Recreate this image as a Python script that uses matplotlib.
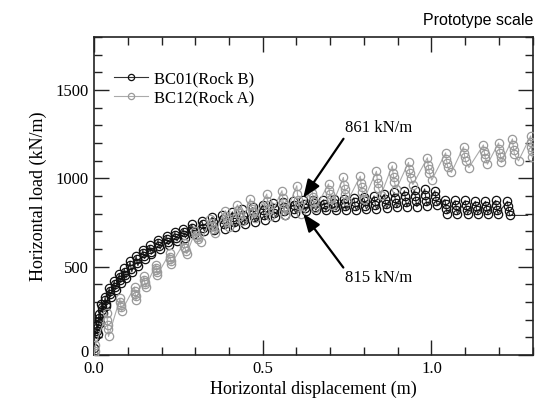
import matplotlib
matplotlib.use("Agg")
import matplotlib.pyplot as plt
import matplotlib.transforms as mtransforms
from matplotlib.ticker import MultipleLocator

plt.rcParams['font.family'] = ['Liberation Serif', 'DejaVu Serif']
plt.rcParams['mathtext.fontset'] = 'stix'

# BC01 (Rock B) - horizontal displacement (m) and horizontal load (kN/m)
bc01_x = [0.000, 0.001, 0.002,
          0.008, 0.009, 0.010, 0.011,
          0.014, 0.015, 0.016, 0.017,
          0.022, 0.023, 0.024, 0.026,
          0.033, 0.034, 0.035, 0.037,
          0.045, 0.046, 0.047, 0.049,
          0.060, 0.061, 0.062, 0.064,
          0.075, 0.076, 0.077, 0.079,
          0.090, 0.091, 0.092, 0.095,
          0.107, 0.108, 0.110, 0.112,
          0.125, 0.126, 0.128, 0.130,
          0.145, 0.146, 0.148, 0.150,
          0.165, 0.166, 0.168, 0.170,
          0.190, 0.191, 0.193, 0.196,
          0.215, 0.216, 0.218, 0.221,
          0.240, 0.241, 0.243, 0.246,
          0.265, 0.266, 0.268, 0.271,
          0.290, 0.291, 0.293, 0.296,
          0.320, 0.322, 0.324, 0.327,
          0.350, 0.352, 0.354, 0.357,
          0.380, 0.382, 0.384, 0.387,
          0.410, 0.412, 0.414, 0.417,
          0.440, 0.442, 0.444, 0.447,
          0.470, 0.472, 0.474, 0.477,
          0.500, 0.502, 0.504, 0.507,
          0.530, 0.532, 0.534, 0.537,
          0.560, 0.562, 0.564, 0.567,
          0.590, 0.592, 0.594, 0.597,
          0.620, 0.622, 0.624, 0.627,
          0.650, 0.652, 0.654, 0.657,
          0.680, 0.682, 0.684, 0.687,
          0.710, 0.712, 0.714, 0.717,
          0.740, 0.742, 0.744, 0.747,
          0.770, 0.772, 0.774, 0.777,
          0.800, 0.802, 0.804, 0.807,
          0.830, 0.832, 0.834, 0.837,
          0.860, 0.862, 0.864, 0.867,
          0.890, 0.892, 0.894, 0.897,
          0.920, 0.922, 0.924, 0.927,
          0.950, 0.952, 0.954, 0.957,
          0.980, 0.982, 0.984, 0.987,
          1.010, 1.012, 1.014, 1.017,
          1.040, 1.042, 1.044, 1.047,
          1.070, 1.072, 1.074, 1.077,
          1.100, 1.102, 1.104, 1.107,
          1.130, 1.132, 1.134, 1.137,
          1.160, 1.162, 1.164, 1.167,
          1.190, 1.192, 1.194, 1.197,
          1.225, 1.227, 1.229, 1.232,
          1.285]
bc01_y = [0, 40, 100,
          170, 152, 135, 120,
          230, 212, 195, 180,
          290, 272, 255, 240,
          330, 311, 291, 275,
          380, 362, 345, 330,
          420, 402, 385, 370,
          460, 442, 425, 410,
          490, 471, 451, 435,
          530, 509, 488, 470,
          560, 541, 521, 505,
          595, 577, 560, 545,
          620, 602, 585, 570,
          650, 632, 615, 600,
          675, 657, 640, 625,
          695, 677, 660, 645,
          715, 697, 680, 665,
          740, 721, 701, 685,
          760, 739, 718, 700,
          780, 755, 731, 710,
          795, 767, 739, 715,
          810, 780, 750, 725,
          825, 795, 765, 740,
          835, 807, 779, 755,
          850, 820, 790, 765,
          860, 832, 804, 780,
          865, 840, 816, 795,
          870, 847, 825, 805,
          875, 854, 833, 815,
          880, 859, 838, 820,
          878, 857, 836, 818,
          882, 860, 839, 820,
          885, 863, 841, 822,
          890, 865, 841, 820,
          895, 870, 846, 825,
          900, 874, 848, 825,
          910, 882, 854, 830,
          920, 890, 861, 835,
          930, 898, 867, 840,
          935, 902, 869, 840,
          940, 907, 874, 845,
          930, 902, 874, 850,
          880, 852, 824, 800,
          875, 849, 822, 800,
          875, 849, 822, 800,
          870, 845, 821, 800,
          870, 845, 821, 800,
          875, 849, 822, 800,
          870, 842, 814, 790,
          790]

# BC12 (Rock A)
bc12_x = [0.000, 0.002, 0.004,
          0.038, 0.039, 0.040, 0.041, 0.043,
          0.077, 0.078, 0.079, 0.080, 0.082,
          0.120, 0.121, 0.122, 0.123, 0.124,
          0.148, 0.149, 0.150, 0.151, 0.153,
          0.183, 0.184, 0.185, 0.186, 0.188,
          0.224, 0.225, 0.226, 0.227, 0.229,
          0.266, 0.268, 0.270, 0.272, 0.275,
          0.300, 0.303, 0.306, 0.309, 0.318,
          0.344, 0.347, 0.350, 0.352, 0.358,
          0.389, 0.391, 0.393, 0.395, 0.400,
          0.425, 0.428, 0.431, 0.434, 0.440,
          0.463, 0.466, 0.468, 0.470, 0.476,
          0.512, 0.514, 0.516, 0.518, 0.522,
          0.557, 0.559, 0.561, 0.563, 0.566,
          0.601, 0.603, 0.605, 0.607, 0.612,
          0.645, 0.647, 0.649, 0.651, 0.656,
          0.695, 0.697, 0.699, 0.701, 0.706,
          0.739, 0.741, 0.743, 0.745, 0.751,
          0.789, 0.791, 0.793, 0.795, 0.801,
          0.837, 0.839, 0.841, 0.843, 0.850,
          0.884, 0.886, 0.888, 0.890, 0.896,
          0.932, 0.934, 0.936, 0.938, 0.945,
          0.988, 0.990, 0.992, 0.994, 1.001,
          1.042, 1.044, 1.046, 1.048, 1.059,
          1.095, 1.097, 1.099, 1.101, 1.111,
          1.154, 1.156, 1.158, 1.160, 1.166,
          1.199, 1.201, 1.203, 1.205, 1.207,
          1.240, 1.242, 1.244, 1.246, 1.258,
          1.294, 1.295, 1.296, 1.297, 1.299]
bc12_y = [0, 20, 55,
          240, 200, 172, 145, 105,
          320, 299, 285, 271, 250,
          385, 362, 348, 332, 310,
          445, 427, 415, 403, 385,
          510, 494, 483, 472, 455,
          575, 557, 545, 533, 515,
          632, 614, 603, 591, 573,
          700, 682, 670, 658, 640,
          770, 746, 730, 714, 690,
          817, 789, 770, 751, 723,
          850, 823, 805, 788, 761,
          883, 851, 829, 807, 775,
          911, 873, 848, 823, 785,
          930, 888, 860, 832, 790,
          958, 911, 879, 847, 800,
          955, 918, 893, 868, 830,
          968, 933, 909, 885, 850,
          1005, 965, 938, 911, 870,
          1012, 974, 949, 923, 885,
          1040, 1000, 973, 946, 905,
          1071, 1032, 1006, 979, 940,
          1090, 1053, 1028, 1003, 965,
          1116, 1078, 1053, 1028, 990,
          1144, 1111, 1089, 1066, 1033,
          1178, 1143, 1120, 1096, 1061,
          1189, 1156, 1135, 1113, 1080,
          1200, 1167, 1145, 1123, 1090,
          1223, 1186, 1161, 1136, 1099,
          1240, 1204, 1180, 1156, 1120]

series_labels = ['BC01(Rock B)', 'BC12(Rock A)']
x_ticks = [0.0, 0.5, 1.0]
y_ticks = [0, 500, 1000, 1500]

fig = plt.figure(figsize=(5.36, 4.17), dpi=100)
ax = fig.add_axes([0.1754, 0.1487, 0.8184, 0.7626])

ax.plot(bc01_x, bc01_y, color='#333333', lw=0.8, marker='o', ms=6.0,
        mfc='none', mec='#111111', mew=0.9,
        markevery=list(range(len(bc01_x) - 1)),
        label=series_labels[0], zorder=3)
ax.plot(bc12_x, bc12_y, color='#aaaaaa', lw=0.8, marker='o', ms=6.0,
        mfc='none', mec='#9a9a9a', mew=0.9,
        label=series_labels[1], zorder=4)

ax.set_xlim(0, 1.3)
ax.set_ylim(0, 1800)
ax.set_xticks(x_ticks)
ax.set_xticklabels(['%.1f' % v for v in x_ticks])
ax.set_yticks(y_ticks)
ax.xaxis.set_minor_locator(MultipleLocator(0.1))
ax.yaxis.set_minor_locator(MultipleLocator(100))
ax.tick_params(which='both', direction='in', top=True, right=True,
               labelsize=12, color='#222222', width=1.0)
ax.tick_params(which='major', length=11, pad=4)
ax.tick_params(which='minor', length=5.5)
for s in ax.spines.values():
    s.set_linewidth(1.2)
    s.set_color('#222222')

# lift the "0" label on the y axis slightly so it clears "0.0"
fig.canvas.draw()
ylabels = ax.get_yticklabels()
ylabels[0].set_transform(ylabels[0].get_transform() +
                         mtransforms.ScaledTranslation(0, 3 / 72, fig.dpi_scale_trans))

ax.set_xlabel('Horizontal displacement (m)', fontsize=13, labelpad=3)
ax.set_ylabel('Horizontal load (kN/m)', fontsize=13, labelpad=6)

leg = ax.legend(loc='upper left', frameon=False, fontsize=12,
                handlelength=2.0, handletextpad=0.4, borderaxespad=0.3,
                labelspacing=0.2, markerscale=0.75,
                bbox_to_anchor=(0.02, 0.93))
leg.set_zorder(5)

ax.annotate('861 kN/m', xy=(0.62, 890), xytext=(0.745, 1285),
            fontsize=12, va='center', ha='left',
            arrowprops=dict(arrowstyle='-|>,head_length=0.9,head_width=0.35',
                            color='black', lw=1.6, shrinkA=0, shrinkB=0,
                            relpos=(0.0, 0.0)), zorder=6)
ax.annotate('815 kN/m', xy=(0.62, 800), xytext=(0.745, 434),
            fontsize=12, va='center', ha='left',
            arrowprops=dict(arrowstyle='-|>,head_length=0.9,head_width=0.35',
                            color='black', lw=1.6, shrinkA=0, shrinkB=0,
                            relpos=(0.0, 1.0)), zorder=6)

fig.text(0.995, 0.952, 'Prototype scale', ha='right', va='center',
         fontsize=11.5, family=['Liberation Sans', 'DejaVu Sans'])

fig.savefig('out.png', dpi=100)
